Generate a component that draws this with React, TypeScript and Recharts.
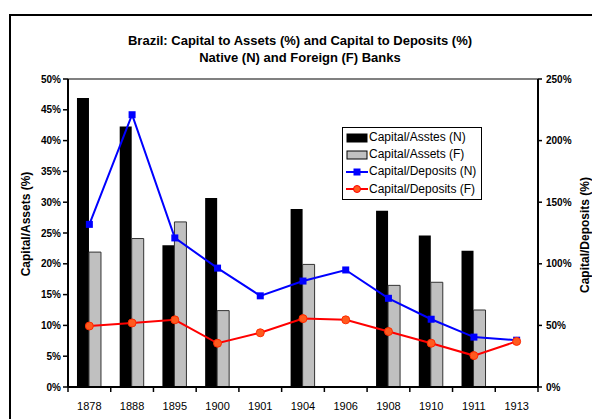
import {
  ComposedChart,
  Bar,
  Line,
  XAxis,
  YAxis,
  ReferenceLine,
} from 'recharts'

const years = ['1878', '1888', '1895', '1900', '1901', '1904', '1906', '1908', '1910', '1911', '1913']
const assetsNative = [46.9, 42.3, 23.0, 30.7, 0, 28.9, 0, 28.6, 24.6, 22.1, 0]
const assetsForeign = [21.9, 24.1, 26.8, 12.4, 0, 19.9, 0, 16.5, 17.0, 12.5, 0]
const depositsNative = [132, 221, 121, 96.5, 74, 86, 95, 72, 55, 40.5, 38]
const depositsForeign = [49.5, 52, 54.5, 35.5, 44, 55.5, 54.5, 45, 35.5, 25.5, 37]
const leftTicks = [0, 5, 10, 15, 20, 25, 30, 35, 40, 45, 50]
const rightTicks = [0, 50, 100, 150, 200, 250]

const data = years.map((y, i) => ({
  year: y,
  an: assetsNative[i] || null,
  af: assetsForeign[i] || null,
  dn: depositsNative[i],
  df: depositsForeign[i],
}))

const font = 'Arial, "Liberation Sans", sans-serif'

const legendItems = [
  { label: 'Capital/Asstes (N)', kind: 'bar', color: '#000' },
  { label: 'Capital/Assets (F)', kind: 'bar', color: '#c0c0c0' },
  { label: 'Capital/Deposits (N)', kind: 'square', color: '#0000ff' },
  { label: 'Capital/Deposits (F)', kind: 'circle', color: '#ff0000' },
]

function LegendBox() {
  return (
    <div
      style={{
        position: 'absolute',
        left: 342,
        top: 127,
        width: 132,
        border: '1px solid #000',
        background: '#fff',
        padding: '1px 3px 1px 3px',
        fontFamily: font,
        fontSize: 12,
        lineHeight: '17.2px',
      }}
    >
      {legendItems.map((it) => (
        <div key={it.label} style={{ display: 'flex', alignItems: 'center', whiteSpace: 'nowrap' }}>
          <svg width={22} height={10} style={{ marginRight: 1 }}>
            {it.kind === 'bar' ? (
              <rect x={1} y={1} width={20} height={8} fill={it.color} stroke="#000" strokeWidth={1} />
            ) : (
              <>
                <line x1={0} y1={5} x2={22} y2={5} stroke={it.color} strokeWidth={2} />
                {it.kind === 'square' ? (
                  <rect x={7.5} y={1.5} width={7} height={7} fill={it.color} />
                ) : (
                  <circle cx={11} cy={5} r={3.5} fill="#ff5a1e" stroke="#ff0000" />
                )}
              </>
            )}
          </svg>
          <span>{it.label}</span>
        </div>
      ))}
    </div>
  )
}

function Square(props: any) {
  const { cx, cy } = props
  if (cx == null || cy == null) return null
  return <rect x={cx - 3.5} y={cy - 3.5} width={7} height={7} fill="#0000ff" />
}

// year label plus tick marks on the category boundaries
function YearTick(props: any) {
  const { x, y, payload, index } = props
  const half = payload.offset || 0
  return (
    <g>
      <line x1={x - half} y1={y} x2={x - half} y2={y + 5} stroke="#000" strokeWidth={1.5} />
      {index === years.length - 1 && (
        <line x1={x + half} y1={y} x2={x + half} y2={y + 5} stroke="#000" strokeWidth={1.5} />
      )}
      <text x={x} y={y + 15} dy="0.71em" textAnchor="middle" fill="#000" fontSize={11} fontFamily={font}>
        {payload.value}
      </text>
    </g>
  )
}

export default function App() {
  return (
    <div style={{ position: 'absolute', left: 0, top: 0, width: 592, height: 419, background: '#fff', overflow: 'hidden' }}>
      <div
        style={{
          position: 'absolute',
          left: 9,
          top: 14,
          width: 600,
          height: 420,
          border: '2px solid #000',
        }}
      />
      <div
        style={{
          position: 'absolute',
          left: 0,
          width: 600,
          top: 32,
          textAlign: 'center',
          fontFamily: font,
          fontWeight: 'bold',
          fontSize: 13,
          lineHeight: '17px',
        }}
      >
        Brazil: Capital to Assets (%) and Capital to Deposits (%)
        <br />
        Native (N) and Foreign (F) Banks
      </div>
      <div
        style={{
          position: 'absolute',
          left: 26,
          top: 224,
          transform: 'translate(-50%, -50%) rotate(-90deg)',
          fontFamily: font,
          fontWeight: 'bold',
          fontSize: 12,
          whiteSpace: 'nowrap',
        }}
      >
        Capital/Assets (%)
      </div>
      <div
        style={{
          position: 'absolute',
          left: 585,
          top: 235,
          transform: 'translate(-50%, -50%) rotate(-90deg)',
          fontFamily: font,
          fontWeight: 'bold',
          fontSize: 12,
          whiteSpace: 'nowrap',
        }}
      >
        Capital/Deposits (%)
      </div>
      <div style={{ position: 'absolute', left: 0, top: 0 }}>
        <ComposedChart
          width={592}
          height={419}
          data={data}
          margin={{ top: 79, right: 0, bottom: 0, left: 0 }}
          barGap={0}
          barCategoryGap="21%"
        >
          <XAxis
            dataKey="year"
            height={32}
            axisLine={{ stroke: '#000', strokeWidth: 2 }}
            tickLine={false}
            tickSize={0}
            tickMargin={0}
            tick={<YearTick />}
            interval={0}
          />
          <YAxis
            yAxisId="left"
            width={68}
            domain={[0, 50]}
            ticks={leftTicks}
            tickFormatter={(v) => `${v}%`}
            tickSize={5}
            axisLine={{ stroke: '#000', strokeWidth: 2 }}
            tickLine={{ stroke: '#000', strokeWidth: 1.5 }}
            tick={{ fill: '#000', fontSize: 10, fontWeight: 'bold', fontFamily: font }}
          />
          <YAxis
            yAxisId="right"
            orientation="right"
            width={54}
            domain={[0, 250]}
            ticks={rightTicks}
            tickFormatter={(v) => `${v}%`}
            tickSize={4}
            tickMargin={4}
            axisLine={{ stroke: '#000', strokeWidth: 2 }}
            tickLine={{ stroke: '#000', strokeWidth: 1.5 }}
            tick={{ fill: '#000', fontSize: 10, fontWeight: 'bold', fontFamily: font }}
          />
          <ReferenceLine yAxisId="left" y={50} stroke="#808080" strokeWidth={2} />
          <Bar yAxisId="left" dataKey="an" fill="#000" isAnimationActive={false} />
          <Bar yAxisId="left" dataKey="af" fill="#c0c0c0" stroke="#333" strokeWidth={1} isAnimationActive={false} />
          <Line
            yAxisId="right"
            dataKey="dn"
            stroke="#0000ff"
            strokeWidth={2}
            dot={<Square />}
            isAnimationActive={false}
          />
          <Line
            yAxisId="right"
            dataKey="df"
            stroke="#ff0000"
            strokeWidth={2}
            dot={{ r: 4, fill: '#ff5a1e', stroke: '#ff2a00', strokeWidth: 1 }}
            isAnimationActive={false}
          />
        </ComposedChart>
      </div>
      <LegendBox />
    </div>
  )
}
